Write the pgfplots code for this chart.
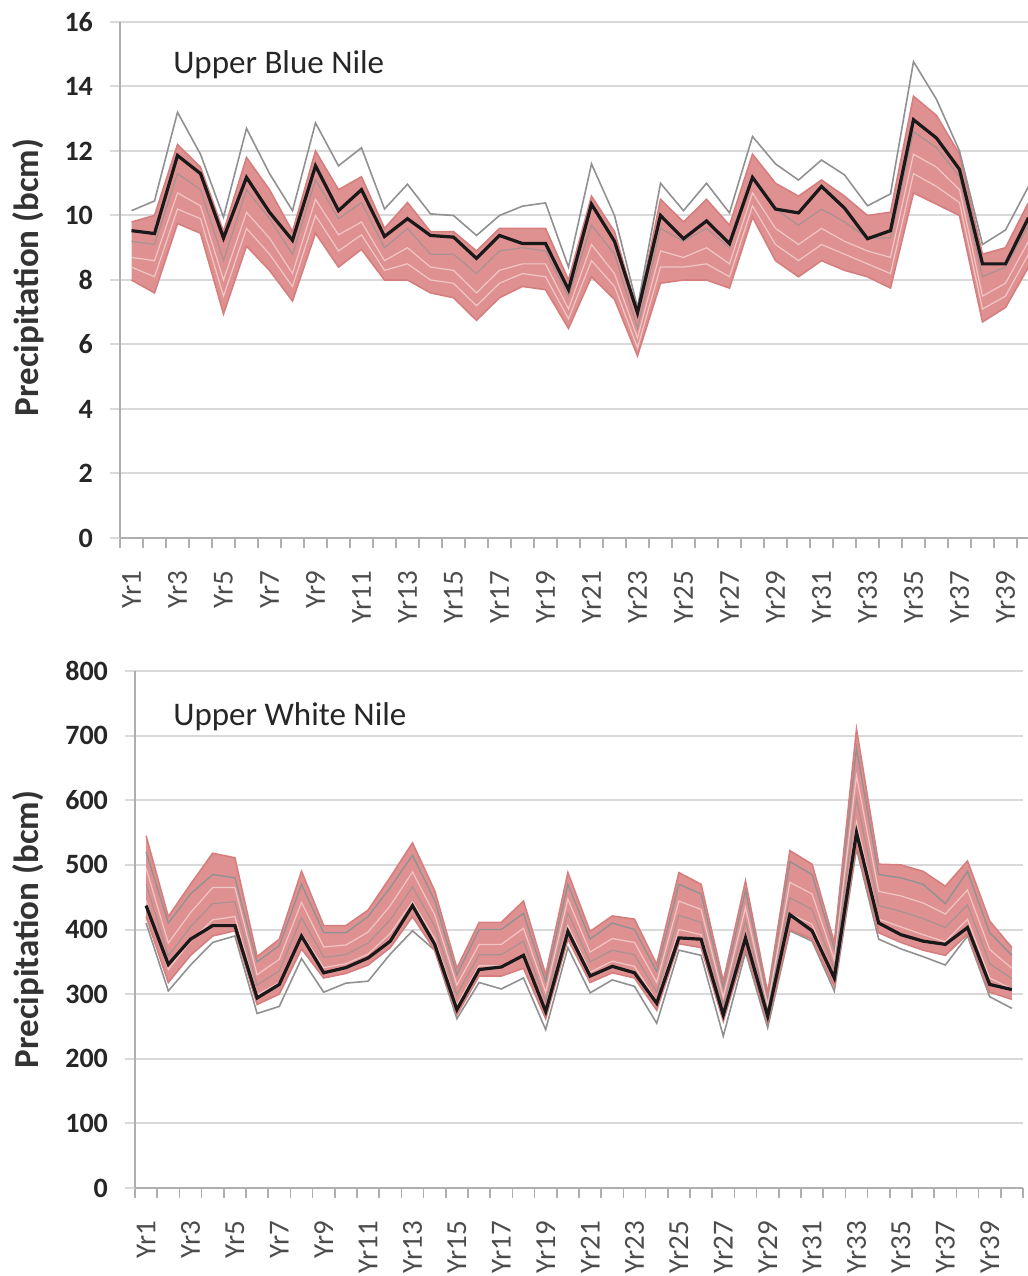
\documentclass[border=0pt]{standalone}
\usepackage{fontspec}
\setmainfont{Carlito}
\usepackage{pgfplots}
\pgfplotsset{compat=1.18}
\usepackage{pgfplotstable}
\usepgfplotslibrary{fillbetween}

\definecolor{pinkf}{RGB}{223,145,145}
\definecolor{pinkl}{RGB}{214,126,126}
\definecolor{streak}{RGB}{240,198,198}
\definecolor{grayl}{RGB}{145,145,145}
\definecolor{blk}{RGB}{25,25,25}
\definecolor{gridc}{RGB}{217,217,217}
\definecolor{axc}{RGB}{175,175,175}

\pgfplotstableread{
x B G1 PU PL G2 S2 S3
1 9.53 10.15 9.8 8.0 9.2 8.7 8.4
2 9.44 10.45 10.0 7.6 9.1 8.6 8.1
3 11.86 13.2 12.2 9.75 11.3 10.7 10.2
4 11.3 11.9 11.5 9.45 10.8 10.3 9.9
5 9.3 9.95 9.5 6.95 8.6 8.0 7.5
6 11.18 12.7 11.8 9.05 10.8 10.1 9.6
7 10.1 11.3 10.8 8.3 9.9 9.3 8.8
8 9.23 10.15 9.5 7.35 8.8 8.2 7.8
9 11.54 12.87 12.0 9.45 11.1 10.5 10.0
10 10.15 11.54 10.8 8.4 9.9 9.4 8.9
11 10.8 12.1 11.2 8.95 10.4 9.8 9.4
12 9.35 10.2 9.6 8.0 9.0 8.6 8.3
13 9.9 10.97 10.4 8.0 9.6 9.0 8.5
14 9.38 10.05 9.5 7.6 8.8 8.4 8.0
15 9.33 10.0 9.5 7.45 8.8 8.3 7.9
16 8.67 9.38 8.9 6.75 8.2 7.6 7.2
17 9.38 10.0 9.6 7.45 8.9 8.3 7.9
18 9.13 10.29 9.6 7.8 9.0 8.5 8.2
19 9.13 10.39 9.6 7.7 8.9 8.5 8.1
20 7.7 8.4 8.0 6.5 7.5 7.1 6.8
21 10.35 11.6 10.6 8.1 9.7 9.1 8.6
22 9.2 10.0 9.5 7.4 8.8 8.2 7.8
23 6.98 7.15 7.0 5.65 6.5 6.2 5.9
24 10.0 11.0 10.5 7.9 9.6 8.9 8.4
25 9.28 10.15 9.8 8.0 9.2 8.7 8.4
26 9.83 11.0 10.5 8.0 9.6 9.0 8.5
27 9.13 10.08 9.7 7.75 9.0 8.5 8.1
28 11.18 12.45 11.9 9.95 11.2 10.7 10.3
29 10.2 11.6 11.0 8.6 10.2 9.6 9.1
30 10.08 11.1 10.6 8.1 9.7 9.1 8.6
31 10.9 11.72 11.1 8.6 10.2 9.6 9.1
32 10.23 11.26 10.6 8.3 9.8 9.2 8.8
33 9.28 10.3 10.0 8.1 9.3 8.9 8.5
34 9.53 10.67 10.1 7.75 9.3 8.7 8.2
35 12.97 14.77 13.7 10.7 12.6 11.9 11.3
36 12.4 13.6 13.1 10.35 12.1 11.5 10.9
37 11.43 12.0 11.9 10.0 11.2 10.8 10.4
38 8.5 9.1 8.8 6.7 8.1 7.5 7.1
39 8.5 9.55 9.0 7.15 8.4 7.9 7.5
40 9.93 10.9 10.4 8.4 9.7 9.2 8.8
}\ubn

\pgfplotstableread{
x B GU GL PU PL GM SB SC
1 437 520 410 545 420 470 495 445
2 346 410 305 420 318 359 379 338
3 385 455 345 470 360 404 426 382
4 406 485 380 518 390 440 465 415
5 406 480 390 511 398 443 465 420
6 294 350 270 358 284 314 330 299
7 315 375 281 385 300 336 354 318
8 390 470 355 490 370 418 442 394
9 333 395 303 406 325 357 373 341
10 341 395 317 406 332 361 376 347
11 356 420 320 430 345 379 396 362
12 382 465 362 481 372 415 437 394
13 437 515 398 534 420 466 489 443
14 377 445 368 460 368 405 423 386
15 276 330 262 340 268 299 314 283
16 338 400 318 411 328 361 377 344
17 342 400 308 411 328 361 377 344
18 360 425 325 444 340 382 402 361
19 273 320 245 330 262 289 303 276
20 397 470 372 488 385 426 447 406
21 328 385 302 397 318 350 365 334
22 343 410 322 421 333 368 386 351
23 333 400 312 416 325 361 380 343
24 286 335 255 346 275 303 318 289
25 387 470 368 488 378 422 444 400
26 385 455 360 470 372 411 431 392
27 268 310 235 320 258 283 295 270
28 387 460 365 475 372 413 434 393
29 266 295 248 302 256 274 282 265
30 423 505 398 522 400 449 473 424
31 398 485 382 501 385 431 455 408
32 325 370 305 380 312 339 353 326
33 550 680 525 710 530 602 638 566
34 410 485 385 501 395 437 459 416
35 392 480 370 500 380 428 452 404
36 382 470 358 490 368 417 441 392
37 377 440 345 467 360 403 424 381
38 403 490 390 506 393 438 461 416
39 315 395 296 413 303 347 369 325
40 307 360 278 372 292 324 340 308
}\uwn

\pgfplotsset{
  nile/.style={
    scale only axis,
    xmin=0.5, xmax=40.5, ymin=0,
    axis x line*=bottom, axis y line*=left,
    x axis line style={draw=axc, line width=0.8pt, -},
    y axis line style={draw=axc, line width=0.8pt, -},
    xtick={1,3,...,39},
    xticklabels={Yr1,Yr3,Yr5,Yr7,Yr9,Yr11,Yr13,Yr15,Yr17,Yr19,Yr21,Yr23,Yr25,Yr27,Yr29,Yr31,Yr33,Yr35,Yr37,Yr39},
    minor xtick={0.5,1.5,...,40.5},
    tick align=outside,
    major tick length=5pt, minor tick length=5pt,
    major x tick style={draw=none},
    minor x tick style={draw=axc, line width=0.8pt},
    ytick style={draw=gridc, line width=1pt},
    ymajorgrids, major grid style={draw=gridc, line width=1pt},
    /pgf/number format/assume math mode=true,
    yticklabel style={font=\fontsize{14}{14}\selectfont\bfseries, text=black!85, xshift=-5pt},
    xticklabel style={font=\fontsize{14.5}{15}\selectfont, text=black!70, rotate=90, anchor=east},
    xticklabel shift=8pt,
    ylabel={Precipitation (bcm)},
    ylabel style={font=\fontsize{17.5}{18}\selectfont\bfseries, text=black!80, anchor=center},
  },
  pinkband/.style={draw=none, forget plot},
}

\begin{document}
\begin{tikzpicture}

% Upper Blue Nile
\begin{axis}[nile, at={(60pt,369pt)}, anchor=south west,
  width=460pt, height=258pt, ymax=16, ytick={0,2,...,16},
  ylabel style={at={(axis description cs:-0.1,0.505)}}]
  \addplot[pinkband, name path=pu] table[x=x,y=PU]{\ubn};
  \addplot[pinkband, name path=pl] table[x=x,y=PL]{\ubn};
  \addplot[fill=pinkf, draw=none] fill between[of=pu and pl];
  \addplot[pinkl, line width=0.8pt] table[x=x,y=PU]{\ubn};
  \addplot[pinkl, line width=0.8pt] table[x=x,y=PL]{\ubn};
  \addplot[streak, line width=0.6pt] table[x=x,y=S2]{\ubn};
  \addplot[streak, line width=0.6pt] table[x=x,y=S3]{\ubn};
  \addplot[grayl!70!pinkf, line width=0.6pt] table[x=x,y=G2]{\ubn};
  \addplot[grayl, line width=0.8pt] table[x=x,y=G1]{\ubn};
  \addplot[blk, line width=1.6pt] table[x=x,y=B]{\ubn};
  \node[anchor=base west, inner sep=0pt, font=\fontsize{16.5}{17}\selectfont, text=black!85]
    at (axis cs:2.8,14.41) {Upper Blue Nile};
\end{axis}

% Upper White Nile
\begin{axis}[nile, at={(67.5pt,44pt)}, anchor=south west,
  width=444pt, height=258.5pt, ymax=800, ytick={0,100,...,800},
  ylabel style={at={(axis description cs:-0.1205,0.5)}}]
  \addplot[grayl, line width=0.8pt] table[x=x,y=GL]{\uwn};
  \addplot[pinkband, name path=pu] table[x=x,y=PU]{\uwn};
  \addplot[pinkband, name path=pl] table[x=x,y=PL]{\uwn};
  \addplot[fill=pinkf, draw=none] fill between[of=pu and pl];
  \addplot[grayl, line width=0.7pt] table[x=x,y=GU]{\uwn};
  \addplot[pinkl, line width=0.8pt] table[x=x,y=PU]{\uwn};
  \addplot[pinkl, line width=0.8pt] table[x=x,y=PL]{\uwn};
  \addplot[streak, line width=0.6pt] table[x=x,y=SB]{\uwn};
  \addplot[streak, line width=0.6pt] table[x=x,y=SC]{\uwn};
  \addplot[grayl!70!pinkf, line width=0.6pt] table[x=x,y=GM]{\uwn};
  \addplot[blk, line width=1.6pt] table[x=x,y=B]{\uwn};
  \node[anchor=base west, inner sep=0pt, font=\fontsize{16.5}{17}\selectfont, text=black!85]
    at (axis cs:2.21,716) {Upper White Nile};
\end{axis}

\pgfresetboundingbox
\path[use as bounding box] (0pt,0pt) rectangle (514pt,638pt);
\end{tikzpicture}
\end{document}
